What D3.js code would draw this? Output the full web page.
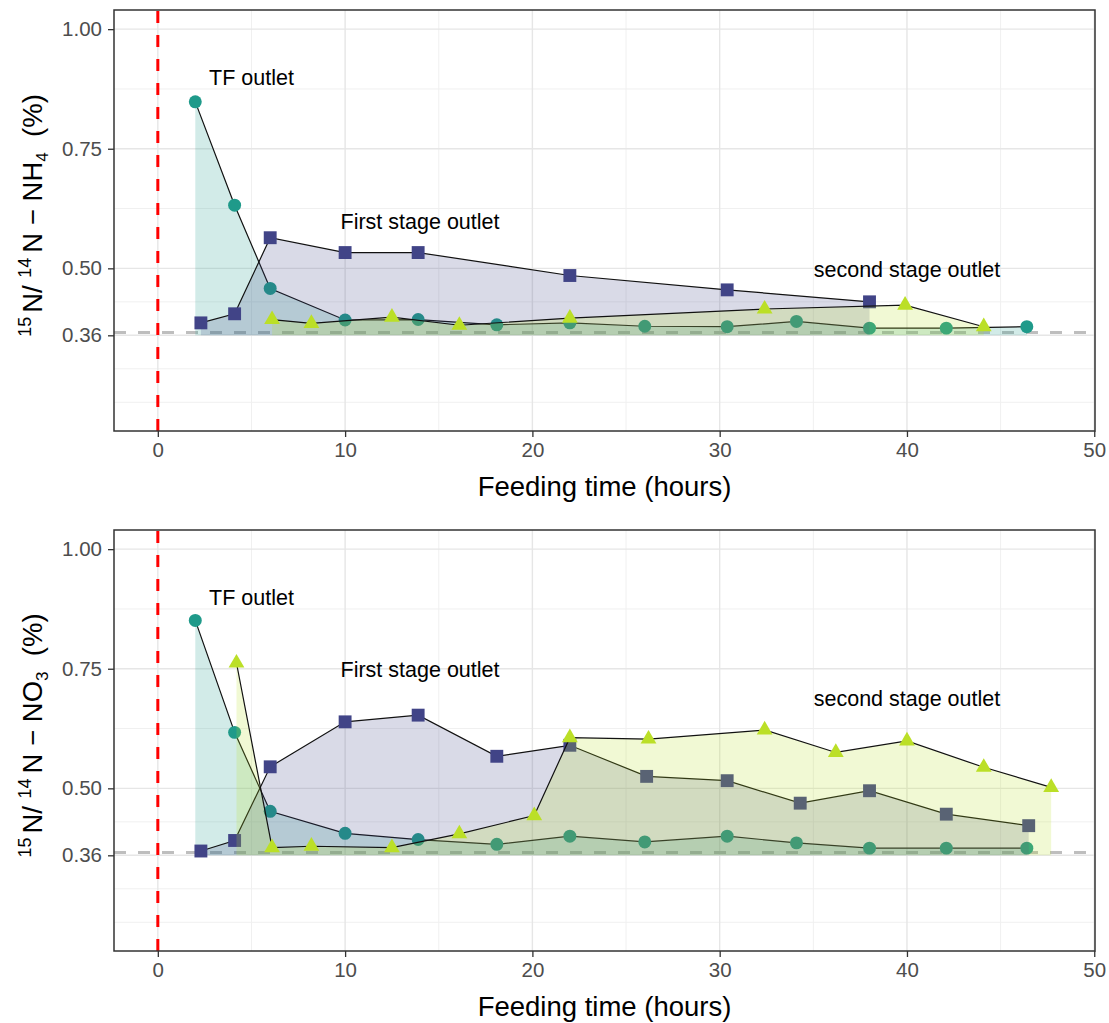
<!DOCTYPE html>
<html>
<head>
<meta charset="utf-8">
<script src="https://cdn.jsdelivr.net/npm/d3@7"></script>
<style>
  html, body { margin: 0; padding: 0; background: #ffffff; }
  svg { display: block; }
  text { font-family: "Liberation Sans", Arial, sans-serif; }
</style>
</head>
<body>
<div id="chart"></div>
<script>
// ---------------- DATA ----------------
const xTicks = [0, 10, 20, 30, 40, 50];
const xMinorTicks = [5, 15, 25, 35, 45];
const yTicks = [0.36, 0.50, 0.75, 1.00];
const yTickLabels = ["0.36", "0.50", "0.75", "1.00"];
const yMinorTicks = [0.22, 0.29, 0.43, 0.625, 0.875];
const seriesNames = ["TF outlet", "First stage outlet", "second stage outlet"];
const naturalAbundance = 0.366;
const baseline = 0.36;

// Top panel: 15N/14N - NH4
const nh4TfTime   = [2.0, 4.1, 6.0, 10.0, 13.9, 18.1, 22.0, 26.0, 30.4, 34.1, 38.0, 42.1, 46.4];
const nh4TfValue  = [0.848, 0.632, 0.458, 0.392, 0.393, 0.382, 0.386, 0.379, 0.378, 0.389, 0.375, 0.375, 0.378];
const nh4FirstTime  = [2.3, 4.1, 6.0, 10.0, 13.9, 22.0, 30.4, 38.0];
const nh4FirstValue = [0.386, 0.405, 0.564, 0.533, 0.533, 0.485, 0.455, 0.430];
const nh4SecondTime  = [6.1, 8.2, 12.5, 16.1, 22.0, 32.4, 39.9, 44.1];
const nh4SecondValue = [0.393, 0.385, 0.398, 0.381, 0.396, 0.415, 0.423, 0.378];

// Bottom panel: 15N/14N - NO3
const no3TfTime   = [2.0, 4.1, 6.0, 10.0, 13.9, 18.1, 22.0, 26.0, 30.4, 34.1, 38.0, 42.1, 46.4];
const no3TfValue  = [0.851, 0.617, 0.452, 0.406, 0.393, 0.383, 0.400, 0.388, 0.400, 0.386, 0.375, 0.375, 0.375];
const no3FirstTime  = [2.3, 4.1, 6.0, 10.0, 13.9, 18.1, 22.0, 26.1, 30.4, 34.3, 38.0, 42.1, 46.5];
const no3FirstValue = [0.369, 0.391, 0.545, 0.639, 0.653, 0.567, 0.590, 0.525, 0.516, 0.469, 0.495, 0.446, 0.422];
const no3SecondTime  = [4.2, 6.1, 8.2, 12.5, 16.1, 20.1, 22.0, 26.2, 32.4, 36.2, 40.0, 44.1, 47.7];
const no3SecondValue = [0.762, 0.376, 0.379, 0.376, 0.405, 0.443, 0.606, 0.603, 0.622, 0.575, 0.599, 0.544, 0.502];

// Label positions (data units)
const nh4LabelX = [5, 14, 40];
const nh4LabelY = [0.90, 0.60, 0.50];
const no3LabelX = [5, 14, 40];
const no3LabelY = [0.90, 0.75, 0.69];

// ---------------- STYLE / LAYOUT ----------------
const W = 1109, H = 1023;
const colors = ["#1F9A8A", "#414487", "#BBDF27"];
const shapes = [d3.symbolCircle, d3.symbolSquare, d3.symbolTriangle];
const shapeSizes = [132, 166, 108];

const svg = d3.select("#chart").append("svg")
  .attr("width", W).attr("height", H)
  .attr("viewBox", `0 0 ${W} ${H}`);

const zip = (ts, vs) => ts.map((t, i) => ({ t, v: vs[i] }));

const panels = [
  {
    top: 10, bottom: 431,
    series: [zip(nh4TfTime, nh4TfValue), zip(nh4FirstTime, nh4FirstValue), zip(nh4SecondTime, nh4SecondValue)],
    labels: seriesNames.map((n, i) => ({ n, x: nh4LabelX[i], y: nh4LabelY[i] })),
    ion: "NH", sub: "4"
  },
  {
    top: 530, bottom: 951,
    series: [zip(no3TfTime, no3TfValue), zip(no3FirstTime, no3FirstValue), zip(no3SecondTime, no3SecondValue)],
    labels: seriesNames.map((n, i) => ({ n, x: no3LabelX[i], y: no3LabelY[i] })),
    ion: "NO", sub: "3"
  }
];

const left = 114, right = 1095;
const x = d3.scaleLinear().domain([-2.34, 50.04]).range([left, right]);

panels.forEach(p => {
  const y = d3.scaleLinear().domain([0.16, 1.04]).range([p.bottom, p.top]);
  const g = svg.append("g");

  g.append("rect").attr("x", left).attr("y", p.top)
    .attr("width", right - left).attr("height", p.bottom - p.top).attr("fill", "#ffffff");

  // minor grid
  g.selectAll(".ymin").data(yMinorTicks).enter().append("line")
    .attr("x1", left).attr("x2", right)
    .attr("y1", d => y(d)).attr("y2", d => y(d))
    .attr("stroke", "#F0F0F0").attr("stroke-width", 1);
  g.selectAll(".xmin").data(xMinorTicks).enter().append("line")
    .attr("y1", p.top).attr("y2", p.bottom)
    .attr("x1", d => x(d)).attr("x2", d => x(d))
    .attr("stroke", "#F0F0F0").attr("stroke-width", 1);
  // major grid
  g.selectAll(".ymaj").data(yTicks).enter().append("line")
    .attr("x1", left).attr("x2", right)
    .attr("y1", d => y(d)).attr("y2", d => y(d))
    .attr("stroke", "#E6E6E6").attr("stroke-width", 1.4);
  g.selectAll(".xmaj").data(xTicks).enter().append("line")
    .attr("y1", p.top).attr("y2", p.bottom)
    .attr("x1", d => x(d)).attr("x2", d => x(d))
    .attr("stroke", "#E6E6E6").attr("stroke-width", 1.4);

  // reference lines
  g.append("line")
    .attr("x1", x(0)).attr("x2", x(0)).attr("y1", p.bottom).attr("y2", p.top)
    .attr("stroke", "#FF0000").attr("stroke-width", 3)
    .attr("stroke-dasharray", "12,12");
  g.append("line")
    .attr("x1", left).attr("x2", right)
    .attr("y1", y(naturalAbundance)).attr("y2", y(naturalAbundance))
    .attr("stroke", "#BEBEBE").attr("stroke-width", 3)
    .attr("stroke-dasharray", "12,12");

  const area = d3.area().x(d => x(d.t)).y0(y(baseline)).y1(d => y(d.v));
  const line = d3.line().x(d => x(d.t)).y(d => y(d.v));

  p.series.forEach((s, i) => {
    g.append("path").datum(s).attr("d", area)
      .attr("fill", colors[i]).attr("fill-opacity", 0.2).attr("stroke", "none");
    g.append("path").datum(s).attr("d", line)
      .attr("fill", "none").attr("stroke", "#111111").attr("stroke-width", 1.2);
    g.selectAll(null).data(s).enter().append("path")
      .attr("transform", d => `translate(${x(d.t)},${y(d.v)})`)
      .attr("d", d3.symbol().type(shapes[i]).size(shapeSizes[i]))
      .attr("fill", colors[i]);
  });

  // annotations
  g.selectAll(".lab").data(p.labels).enter().append("text")
    .attr("x", d => x(d.x)).attr("y", d => y(d.y)).attr("dy", "0.38em")
    .attr("text-anchor", "middle").attr("font-size", 21.5).attr("fill", "#000")
    .text(d => d.n);

  // panel border
  g.append("rect").attr("x", left).attr("y", p.top)
    .attr("width", right - left).attr("height", p.bottom - p.top)
    .attr("fill", "none").attr("stroke", "#333333").attr("stroke-width", 1.5);

  // axes
  const yAxis = d3.axisLeft(y).tickValues(yTicks)
    .tickFormat((d, i) => yTickLabels[i]).tickSizeOuter(0).tickSize(6).tickPadding(6);
  const ya = g.append("g").attr("transform", `translate(${left},0)`).call(yAxis);
  ya.select(".domain").remove();
  ya.selectAll(".tick line").attr("stroke", "#333333").attr("stroke-width", 1.3);
  ya.selectAll(".tick text").attr("font-size", 20.5).attr("fill", "#4D4D4D")
    .attr("font-family", "Liberation Sans, Arial, sans-serif");

  const xAxis = d3.axisBottom(x).tickValues(xTicks).tickFormat(d3.format("d"))
    .tickSizeOuter(0).tickSize(6).tickPadding(5);
  const xa = g.append("g").attr("transform", `translate(0,${p.bottom})`).call(xAxis);
  xa.select(".domain").remove();
  xa.selectAll(".tick line").attr("stroke", "#333333").attr("stroke-width", 1.3);
  xa.selectAll(".tick text").attr("font-size", 20.5).attr("fill", "#4D4D4D")
    .attr("font-family", "Liberation Sans, Arial, sans-serif");

  // x title
  g.append("text").attr("x", (left + right) / 2).attr("y", p.bottom + 65)
    .attr("text-anchor", "middle").attr("font-size", 27.5).attr("fill", "#000")
    .text("Feeding time (hours)");

  // y title
  const cy = (p.top + p.bottom) / 2 - 5;
  const yt = g.append("text").attr("transform", `translate(42,${cy}) rotate(-90)`)
    .attr("text-anchor", "middle").attr("font-size", 27.5).attr("fill", "#000")
    .attr("xml:space", "preserve");
  yt.append("tspan").attr("font-size", 18).attr("dy", -11).text("15");
  yt.append("tspan").attr("dy", 11).attr("dx", 4).text("N/ ");
  yt.append("tspan").attr("font-size", 18).attr("dy", -11).text("14");
  yt.append("tspan").attr("dy", 11).attr("dx", 5).text("N \u2212 " + p.ion);
  yt.append("tspan").attr("font-size", 17).attr("dy", 6).text(p.sub);
  yt.append("tspan").attr("dy", -6).text("  (%)");
});
</script>
</body>
</html>
